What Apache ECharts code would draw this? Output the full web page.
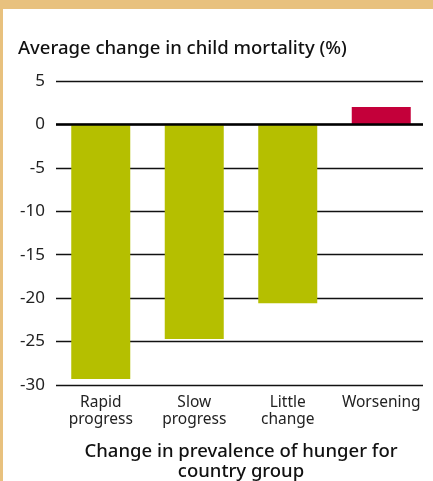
<!DOCTYPE html>
<html>
<head>
<meta charset="utf-8">
<script src="https://cdn.jsdelivr.net/npm/echarts@6/dist/echarts.min.js"></script>
<style>
html,body{margin:0;padding:0;background:#fff;}
#chart{width:433px;height:481px;}
</style>
</head>
<body>
<div id="chart"></div>
<script>
const categories = ['Rapid\nprogress', 'Slow\nprogress', 'Little\nchange', 'Worsening'];
const values = [-29.3, -24.7, -20.6, 2.0];
const barColors = ['#B5BF00', '#B5BF00', '#B5BF00', '#C4003A'];
const yTicks = { min: -30, max: 5, interval: 5 };
const titleText = 'Average change in child mortality (%)';
const xAxisName = 'Change in prevalence of hunger for\ncountry group';

const FONT = 'Noto Sans';
const chart = echarts.init(document.getElementById('chart'));
chart.setOption({
  animation: false,
  backgroundColor: '#fff',
  graphic: [
    { type: 'rect', shape: { x: 0, y: 0, width: 433, height: 9 }, style: { fill: '#E8C17E' } },
    { type: 'rect', shape: { x: 0, y: 0, width: 3, height: 481 }, style: { fill: '#E8C17E' } }
  ],
  title: {
    text: titleText,
    left: 13,
    top: 34,
    textStyle: { fontFamily: FONT, fontSize: 18.5, fontWeight: 500, color: '#111' }
  },
  grid: [
    { left: 54, top: 81, width: 374, height: 304, outerBoundsMode: 'none', containLabel: false },
    { left: 56, top: 81, width: 367, height: 304, outerBoundsMode: 'none', containLabel: false }
  ],
  xAxis: [{
    type: 'category',
    gridIndex: 0,
    data: categories,
    position: 'bottom',
    axisLine: { show: false },
    axisTick: { show: false },
    axisLabel: { interval: 0, fontFamily: FONT, fontSize: 15.5, color: '#222', margin: 9, lineHeight: 17 },
    name: xAxisName,
    nameLocation: 'middle',
    nameGap: 57,
    nameTextStyle: { fontFamily: FONT, fontSize: 18.5, color: '#111', lineHeight: 20, fontWeight: 500 }
  }, {
    type: 'category',
    gridIndex: 1,
    data: categories,
    show: false
  }],
  yAxis: [{
    type: 'value',
    gridIndex: 0,
    min: yTicks.min,
    max: yTicks.max,
    interval: yTicks.interval,
    show: false,
    splitLine: { show: false }
  }, {
    type: 'value',
    gridIndex: 1,
    min: yTicks.min,
    max: yTicks.max,
    interval: yTicks.interval,
    axisLine: { show: false },
    axisTick: { show: false },
    axisLabel: { fontFamily: FONT, fontSize: 17, color: '#222', margin: 11 },
    splitLine: { lineStyle: { color: '#111', width: 1.3 } }
  }],
  series: [{
    type: 'bar',
    xAxisIndex: 0,
    yAxisIndex: 0,
    data: values.map((v, i) => ({ value: v, itemStyle: { color: barColors[i] } })),
    barWidth: 59
  }, {
    type: 'line',
    xAxisIndex: 1,
    yAxisIndex: 1,
    data: [],
    z: 5,
    markLine: {
      silent: true,
      symbol: 'none',
      label: { show: false },
      lineStyle: { color: '#000', width: 2.5, type: 'solid' },
      data: [{ yAxis: 0 }]
    }
  }]
});
</script>
</body>
</html>
